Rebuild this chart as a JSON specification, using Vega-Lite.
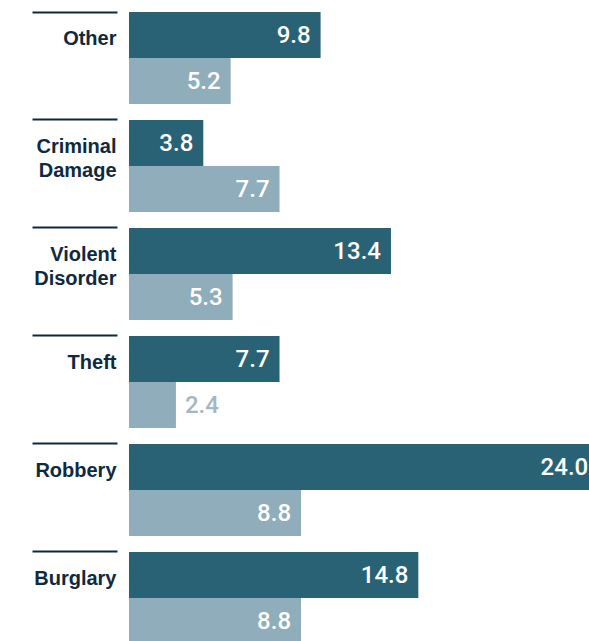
{
  "$schema": "https://vega.github.io/schema/vega-lite/v6.json",
  "autosize": "none",
  "padding": {"left": 129, "top": 12, "right": 0, "bottom": 0},
  "width": 460,
  "height": 632,
  "background": "white",
  "config": {"view": {"stroke": null}},
  "data": {
    "values": [
      {"crime": "Other", "series": "Series 1", "value": 9.8},
      {"crime": "Other", "series": "Series 2", "value": 5.2},
      {"crime": "Criminal Damage", "series": "Series 1", "value": 3.8},
      {"crime": "Criminal Damage", "series": "Series 2", "value": 7.7},
      {"crime": "Violent Disorder", "series": "Series 1", "value": 13.4},
      {"crime": "Violent Disorder", "series": "Series 2", "value": 5.3},
      {"crime": "Theft", "series": "Series 1", "value": 7.7},
      {"crime": "Theft", "series": "Series 2", "value": 2.4},
      {"crime": "Robbery", "series": "Series 1", "value": 24.0},
      {"crime": "Robbery", "series": "Series 2", "value": 8.8},
      {"crime": "Burglary", "series": "Series 1", "value": 14.8},
      {"crime": "Burglary", "series": "Series 2", "value": 8.8}
    ]
  },
  "encoding": {
    "y": {
      "field": "crime",
      "type": "nominal",
      "sort": ["Other", "Criminal Damage", "Violent Disorder", "Theft", "Robbery", "Burglary"],
      "scale": {"paddingInner": 0.1481, "paddingOuter": 0},
      "axis": {
        "title": null,
        "orient": "left",
        "offset": 12,
        "domain": false,
        "ticks": true,
        "bandPosition": 0,
        "tickSize": 85,
        "tickWidth": 2,
        "tickColor": "#0f2a3f",
        "labelAlign": "right",
        "labelBaseline": "top",
        "labelPadding": -84,
        "labelOffset": -29,
        "labelFont": "Arial",
        "labelFontWeight": "bold",
        "labelFontSize": 20,
        "labelLineHeight": 24,
        "labelColor": "#0f2a3f",
        "labelExpr": "split(datum.label, ' ')"
      }
    },
    "yOffset": {
      "field": "series",
      "type": "nominal",
      "scale": {"paddingInner": 0, "paddingOuter": 0}
    },
    "x": {
      "field": "value",
      "type": "quantitative",
      "scale": {"domain": [0, 23.53], "nice": false, "zero": true},
      "axis": null
    }
  },
  "layer": [
    {
      "mark": {"type": "bar", "clip": true, "cornerRadius": 0},
      "encoding": {
        "color": {
          "field": "series",
          "type": "nominal",
          "scale": {"domain": ["Series 1", "Series 2"], "range": ["#2a6275", "#8fadba"]},
          "legend": null
        }
      }
    },
    {
      "transform": [{"filter": "datum.value >= 3"}],
      "mark": {
        "type": "text",
        "align": "right",
        "baseline": "middle",
        "dx": -10,
        "dy": 1,
        "font": "Roboto",
        "fontWeight": 500,
        "fontSize": 24,
        "color": "white"
      },
      "encoding": {
        "text": {"field": "value", "type": "quantitative", "format": ".1f"}
      }
    },
    {
      "transform": [{"filter": "datum.value < 3"}],
      "mark": {
        "type": "text",
        "align": "left",
        "baseline": "middle",
        "dx": 9,
        "dy": 1,
        "font": "Roboto",
        "fontWeight": 500,
        "fontSize": 24,
        "color": "#a3b8c3"
      },
      "encoding": {
        "text": {"field": "value", "type": "quantitative", "format": ".1f"}
      }
    }
  ]
}
